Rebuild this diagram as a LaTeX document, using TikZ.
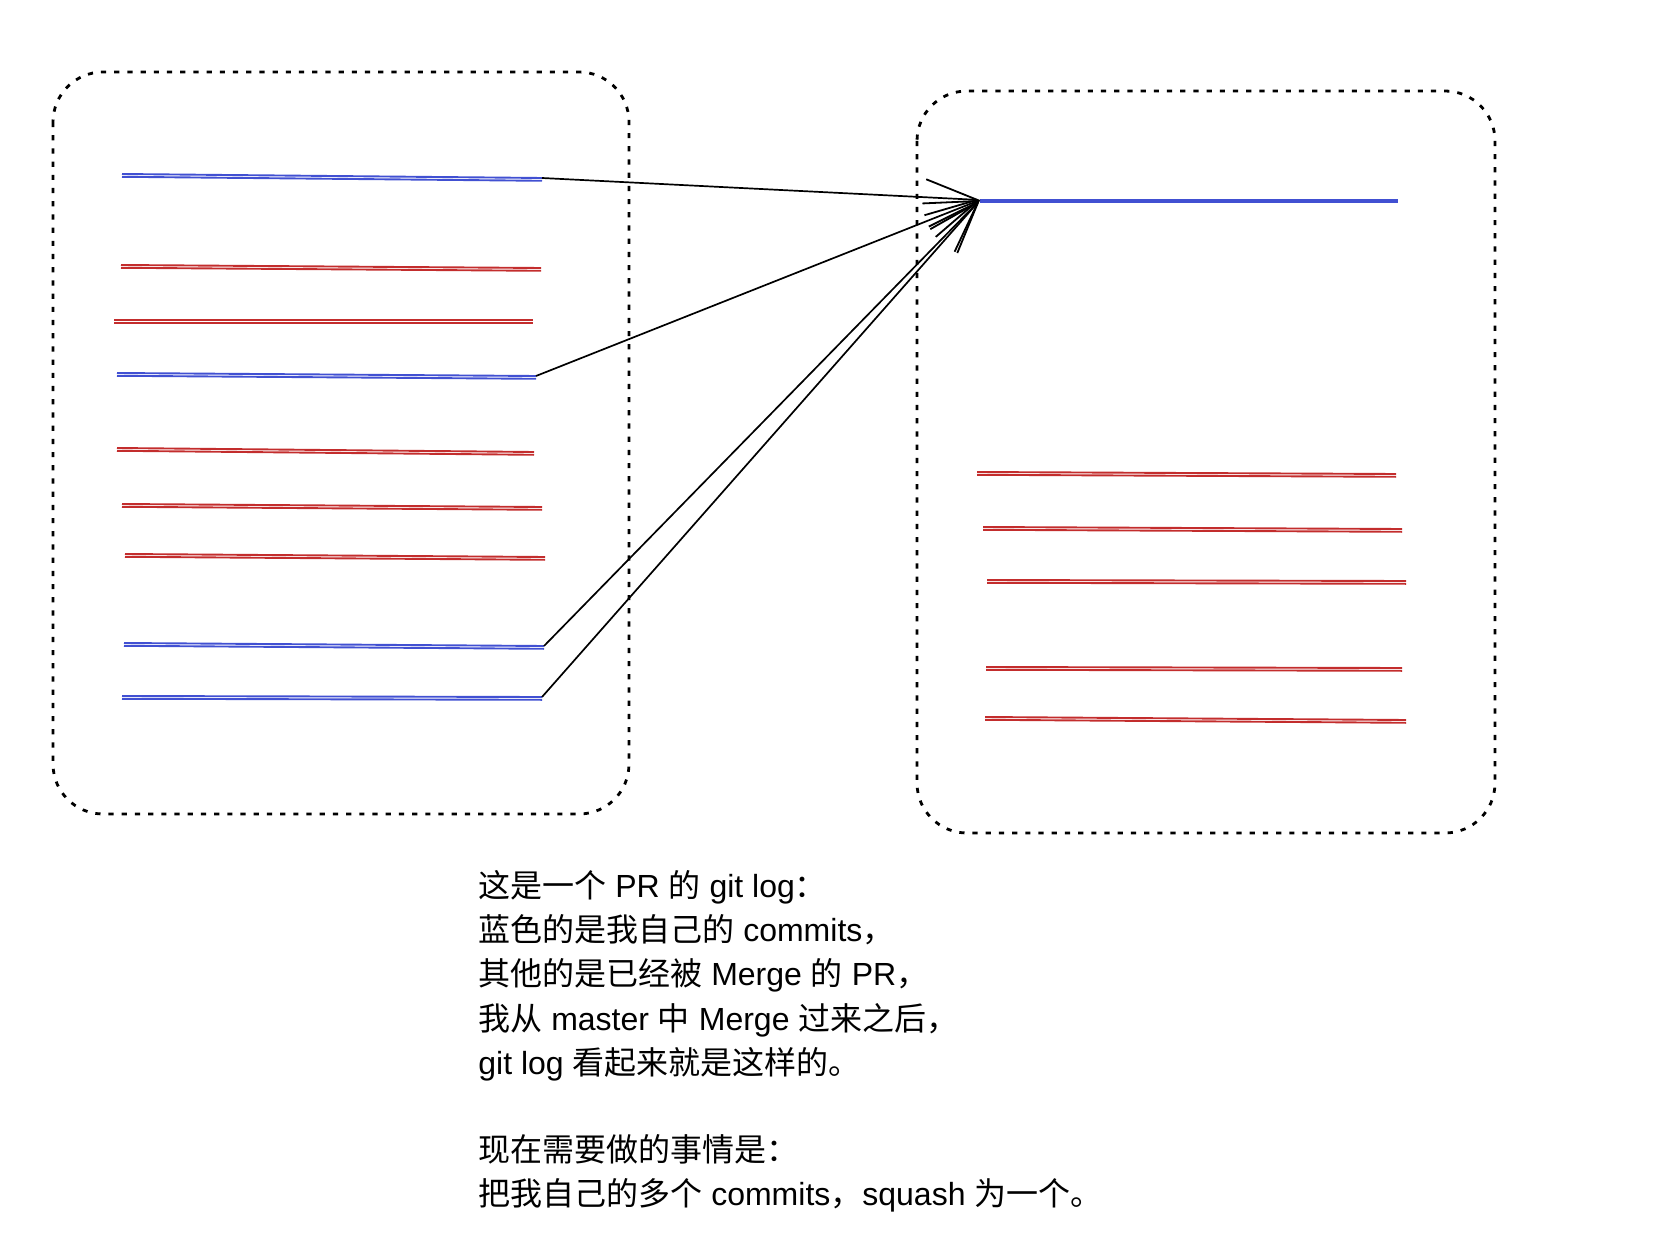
\documentclass[tikz,border=0pt]{standalone}
\usepackage{fontspec}
\setmainfont{Liberation Sans}
\newfontfamily\cjk{Noto Sans CJK SC}
\usetikzlibrary{arrows.meta}
\definecolor{cblue}{RGB}{65,80,210}
\definecolor{cred}{RGB}{195,45,45}
\tikzset{
  frame/.style={line width=1.4pt, dash pattern=on 2.6pt off 4pt, rounded corners=25pt},
  bl/.style={draw=cblue, line width=0.95pt},
  rl/.style={draw=cred, line width=0.95pt},
  conn/.style={draw=black, line width=0.85pt, -{Straight Barb[length=26pt,width=18pt,line width=0.9pt]}},
  txt/.style={anchor=base west, inner sep=0pt, font=\fontsize{16pt}{22pt}\selectfont}
}
\begin{document}
\begin{tikzpicture}[x=0.5pt,y=-0.5pt]
\useasboundingbox (0,0) rectangle (1666,1246);
% frames
\draw[frame] (53,72) rectangle (629,814);
\draw[frame] (917,91) rectangle (1495,833);
% left commits
\coordinate (l1s) at (122,174); \coordinate (l1e) at (542,178);
\coordinate (l2s) at (121,265); \coordinate (l2e) at (541,268);
\coordinate (l3s) at (114,320); \coordinate (l3e) at (533,320);
\coordinate (l4s) at (117,373); \coordinate (l4e) at (536,376);
\coordinate (l5s) at (117,448); \coordinate (l5e) at (534,452);
\coordinate (l6s) at (122,504); \coordinate (l6e) at (542,507);
\coordinate (l7s) at (125,554); \coordinate (l7e) at (545,557);
\coordinate (l8s) at (124,643); \coordinate (l8e) at (544,646);
\coordinate (l9s) at (122,696); \coordinate (l9e) at (542,697);
\foreach \i in {1,4,8,9}{
  \draw[bl] (l\i s) -- (l\i e);
  \draw[bl] ([yshift=-1.4pt]l\i s) -- ([yshift=-1.4pt]l\i e);
}
\foreach \i in {2,3,5,6,7}{
  \draw[rl] (l\i s) -- (l\i e);
  \draw[rl] ([yshift=-1.4pt]l\i s) -- ([yshift=-1.4pt]l\i e);
}
% right commits
\coordinate (r0s) at (980,200); \coordinate (r0e) at (1398,200);
\coordinate (r1s) at (977,472); \coordinate (r1e) at (1396,474);
\coordinate (r2s) at (983,527); \coordinate (r2e) at (1402,529);
\coordinate (r3s) at (987,580); \coordinate (r3e) at (1406,581);
\coordinate (r4s) at (986,667); \coordinate (r4e) at (1402,668);
\coordinate (r5s) at (985,717); \coordinate (r5e) at (1406,720);
\draw[bl] (r0s) -- (r0e);
\draw[bl] ([yshift=-1.2pt]r0s) -- ([yshift=-1.2pt]r0e);
\foreach \i in {1,...,5}{
  \draw[rl] (r\i s) -- (r\i e);
  \draw[rl] ([yshift=-1.4pt]r\i s) -- ([yshift=-1.4pt]r\i e);
}
% connectors
\foreach \i in {1,4,8,9}{
  \draw[conn] (l\i e) -- (r0s);
}
% text
\node[txt] (t1) at (478,897) {{\cjk 这是一个} PR {\cjk 的} git log{\cjk ：}};
\node[txt] (t2) at (478,941) {{\cjk 蓝色的是我自己的} commits{\cjk ，}};
\node[txt] (t3) at (478,985) {{\cjk 其他的是已经被} Merge {\cjk 的} PR{\cjk ，}};
\node[txt] (t4) at (478,1030) {{\cjk 我从} master {\cjk 中} Merge {\cjk 过来之后，}};
\node[txt] (t5) at (478,1074) {git log {\cjk 看起来就是这样的。}};
\node[txt] (t6) at (478,1161) {{\cjk 现在需要做的事情是：}};
\node[txt] (t7) at (478,1205) {{\cjk 把我自己的多个} commits{\cjk ，}squash {\cjk 为一个。}};
\end{tikzpicture}
\end{document}
